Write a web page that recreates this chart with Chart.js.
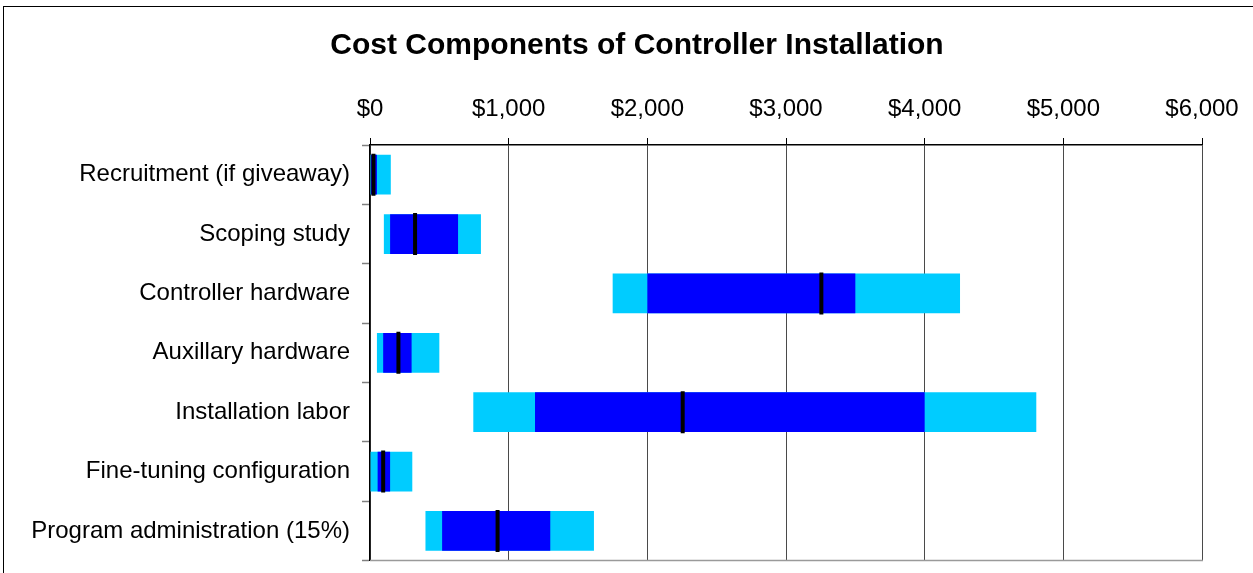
<!DOCTYPE html>
<html>
<head>
<meta charset="utf-8">
<title>Cost Components of Controller Installation</title>
<script src="https://cdn.jsdelivr.net/npm/chart.js@4.4.1/dist/chart.umd.min.js"></script>
<style>
  html, body { margin: 0; padding: 0; background: #fff; overflow: hidden; }
  #frame {
    position: absolute; left: 3px; top: 6px;
    width: 1400px; height: 700px;
    border: 1px solid #000;
  }
  /* taller than the window: the last category label reserves space below the plot */
  #wrap { position: absolute; left: 0; top: 0; width: 1253px; height: 587px; }
</style>
</head>
<body>
<div id="frame"></div>
<div id="wrap"><canvas id="chart"></canvas></div>
<script>
"use strict";

const categories = [
  "Recruitment (if giveaway)",
  "Scoping study",
  "Controller hardware",
  "Auxillary hardware",
  "Installation labor",
  "Fine-tuning configuration",
  "Program administration (15%)",
];

// wide range (light) and likely range (dark), dollars
const outerLow = [0, 100, 1750, 50, 745, 0, 400];
const outerHigh = [150, 800, 4255, 500, 4805, 305, 1615];
const innerLow = [7, 145, 2000, 95, 1190, 55, 520];
const innerHigh = [50, 635, 3500, 300, 4000, 145, 1300];
const medians = [25, 325, 3255, 205, 2255, 95, 920];

const xTicks = [0, 1000, 2000, 3000, 4000, 5000, 6000];

const COLORS = {
  outer: "#00ccff",
  inner: "#0000ff",
  median: "#000000",
};

function ranges(low, high) {
  return low.map((value, index) => [value, high[index]]);
}

function money(value) {
  return "$" + Number(value).toLocaleString("en-US");
}

const bottomLine = {
  id: "bottomLine",
  afterDraw(chart) {
    const { ctx, chartArea } = chart;
    ctx.save();
    ctx.strokeStyle = "#9a9a9a";
    ctx.lineWidth = 1.5;
    ctx.beginPath();
    ctx.moveTo(chartArea.left, chartArea.bottom);
    ctx.lineTo(chartArea.right + 1, chartArea.bottom);
    ctx.stroke();
    ctx.restore();
  },
};

Chart.defaults.font.family = '"Liberation Sans", Arial, sans-serif';
Chart.defaults.color = "#000";

new Chart(document.getElementById("chart").getContext("2d"), {
  type: "bar",
  data: {
    labels: categories,
    datasets: [
      {
        type: "line",
        label: "Median",
        data: medians,
        indexAxis: "y",
        showLine: false,
        pointStyle: "line",
        rotation: 90,
        pointRadius: 21,
        borderColor: COLORS.median,
        backgroundColor: COLORS.median,
        borderWidth: 4,
      },
      {
        label: "Likely range",
        data: ranges(innerLow, innerHigh),
        backgroundColor: COLORS.inner,
        grouped: false,
        categoryPercentage: 1,
        barPercentage: 0.67,
      },
      {
        label: "Full range",
        data: ranges(outerLow, outerHigh),
        backgroundColor: COLORS.outer,
        grouped: false,
        categoryPercentage: 1,
        barPercentage: 0.67,
      },
    ],
  },
  options: {
    indexAxis: "y",
    responsive: true,
    maintainAspectRatio: false,
    animation: false,
    layout: {
      padding: { left: 21, right: 0, top: 0, bottom: 0 },
    },
    plugins: {
      legend: { display: false },
      tooltip: { enabled: false },
      title: {
        display: true,
        text: "Cost Components of Controller Installation",
        color: "#000",
        font: { size: 30, weight: "bold" },
        padding: { top: 28, bottom: 0 },
      },
    },
    scales: {
      x: {
        position: "top",
        min: 0,
        max: 6000,
        afterBuildTicks(scale) {
          scale.ticks = xTicks.map((value) => ({ value }));
        },
        afterFit(scale) {
          scale.height = 81;
          scale.paddingRight = 51;
        },
        ticks: {
          callback: (value) => money(value),
          font: { size: 24 },
          color: "#000",
          padding: 14,
          maxRotation: 0,
        },
        grid: {
          color: "#4a4a4a",
          lineWidth: 1,
          tickLength: 7,
          tickColor: "#000",
        },
        border: { color: "#000", width: 1.5 },
      },
      y: {
        afterFit(scale) {
          scale.width = 349;
        },
        ticks: {
          font: { size: 24 },
          color: "#000",
          padding: 12,
        },
        grid: {
          offset: true,
          drawOnChartArea: false,
          tickLength: 8,
          tickColor: "#808080",
          tickWidth: 1.5,
        },
        border: { color: "#000", width: 1.5 },
      },
    },
  },
  plugins: [bottomLine],
});
</script>
</body>
</html>
